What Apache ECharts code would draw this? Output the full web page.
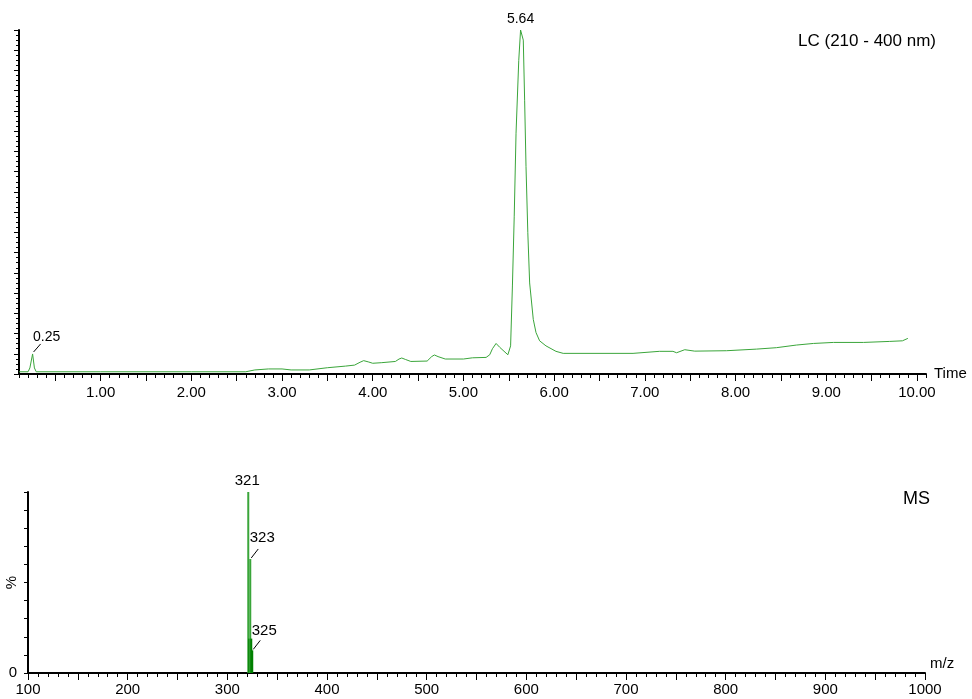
<!DOCTYPE html>
<html><head><meta charset="utf-8">
<script src="https://cdn.jsdelivr.net/npm/echarts@6/dist/echarts.min.js"></script>
<style>html,body{margin:0;padding:0;background:#fff}#c{width:972px;height:699px}</style>
</head><body><div id="c"></div>
<script>
// LC chromatogram (time in min, absorbance in arbitrary units; axis 0..170)
const lcTime = [0.10,0.20,0.22,0.25,0.27,0.29,1.00,2.00,2.60,2.70,2.85,3.00,3.10,3.30,3.50,3.70,3.80,3.86,3.90,3.95,4.00,4.10,4.25,4.29,4.32,4.36,4.42,4.60,4.65,4.68,4.72,4.80,5.00,5.10,5.25,5.29,5.32,5.36,5.40,5.49,5.52,5.54,5.56,5.58,5.61,5.63,5.66,5.675,5.69,5.71,5.73,5.77,5.80,5.84,5.91,6.02,6.10,6.87,7.16,7.31,7.35,7.44,7.55,7.90,8.23,8.45,8.67,8.86,9.08,9.41,9.70,9.84,9.90];
const lcAbs  = [1.1,1.1,3.0,9.9,3.0,1.1,1.1,1.1,1.1,2.0,2.5,2.5,2.0,2.0,3.1,3.9,4.4,5.8,6.6,6.0,5.3,5.6,6.2,7.4,7.9,7.2,6.2,6.4,8.6,9.4,8.6,7.4,7.4,8.0,8.2,9.5,12.5,15.1,13.2,9.5,13.9,43.5,78,119,155,170,165,135,102.6,69.8,45,27,20.5,16.4,13.9,11.2,10.2,10.2,11.2,11.2,10.5,12.0,11.3,11.5,12.3,13.0,14.3,15.1,15.6,15.6,16.1,16.4,17.6];
const lcPeakTimes  = [0.25, 5.63];
const lcPeakLabels = ['0.25', '5.64'];

// MS spectrum
const msMz  = [321, 322, 323, 324, 325];
const msInt = [100, 19, 63, 19, 12.5];
const msLabeled = [321, 323, 325];

// tick positions / labels
const lcLabelValues = [1,2,3,4,5,6,7,8,9,10];
const lcMajorTicks = [];
for (let i = 1; i <= 20; i++) lcMajorTicks.push(+(i * 0.5).toFixed(1));
const lcMinorTicks = [];
for (let i = 1; i <= 101; i++) lcMinorTicks.push(+(i * 0.1).toFixed(1));

const FONT = "'Liberation Sans', Arial, sans-serif";
const lightGreen = '#3aa53a';
const darkGreen = '#008000';

const lcData = lcTime.map((t, i) => [t, lcAbs[i]]);
const lcIdx = t => lcTime.indexOf(t);
// label placement (pixel offsets relative to the peak top)
const lcLabelOffsets = [[14, -17], [0, -11]];
const lcLeader = [true, false];
const msLabelOffsets = {321: [-1, -11], 323: [12, -21], 325: [12, -20]};
const msLeader = {321: false, 323: true, 325: true};

const chart = echarts.init(document.getElementById('c'));
const option = {
  animation: false,
  textStyle: {fontFamily: FONT},
  title: [
    {text: 'LC (210 - 400 nm)', right: 36, top: 33, padding: 0,
     textStyle: {fontFamily: FONT, fontSize: 17, fontWeight: 'normal', color: '#000'}},
    {text: 'MS', right: 42, top: 490, padding: 0,
     textStyle: {fontFamily: FONT, fontSize: 18, fontWeight: 'normal', color: '#000'}}
  ],
  grid: [
    {left: 19, right: 46, top: 30, height: 344, outerBoundsMode: 'none', containLabel: false},
    {left: 28, right: 47, top: 492, height: 181, outerBoundsMode: 'none', containLabel: false}
  ],
  xAxis: [
    {gridIndex: 0, type: 'value', min: 0.1, max: 10.1, position: 'bottom',
     axisLine: {show: true, lineStyle: {color: '#000', width: 2}},
     axisTick: {show: true, length: 7, customValues: lcMajorTicks, lineStyle: {color: '#000', width: 1}},
     axisLabel: {show: true, customValues: lcLabelValues, formatter: v => v.toFixed(2), fontSize: 15, color: '#000', margin: 11, fontFamily: FONT},
     splitLine: {show: false},
     name: 'Time', nameLocation: 'end', nameGap: 8,
     nameTextStyle: {fontSize: 15, color: '#000', fontFamily: FONT, verticalAlign: 'middle'}},
    {gridIndex: 0, type: 'value', min: 0.1, max: 10.1, position: 'bottom', offset: 0,
     axisLine: {show: false},
     axisTick: {show: true, length: 4, customValues: lcMinorTicks, lineStyle: {color: '#000', width: 1}},
     axisLabel: {show: false}, splitLine: {show: false}},
    {gridIndex: 1, type: 'value', min: 100, max: 1000, interval: 50,
     axisLine: {show: true, lineStyle: {color: '#000', width: 2}},
     axisTick: {show: true, length: 7, lineStyle: {color: '#000', width: 1}},
     minorTick: {show: true, splitNumber: 5, length: 4, lineStyle: {color: '#000', width: 1}},
     axisLabel: {show: true, formatter: v => (v % 100 === 0 ? String(v) : ''), fontSize: 15, color: '#000', margin: 9, fontFamily: FONT},
     splitLine: {show: false}, minorSplitLine: {show: false},
     name: 'm/z', nameLocation: 'end', nameGap: 5,
     nameTextStyle: {fontSize: 15, color: '#000', fontFamily: FONT, verticalAlign: 'bottom', padding: [0, 0, 2, 0]}}
  ],
  yAxis: [
    {gridIndex: 0, type: 'value', min: 0, max: 170, interval: 10,
     axisLine: {show: true, lineStyle: {color: '#000', width: 2}},
     axisTick: {show: true, length: 5, lineStyle: {color: '#000', width: 1}},
     minorTick: {show: true, splitNumber: 4, length: 3, lineStyle: {color: '#000', width: 1}},
     axisLabel: {show: false}, splitLine: {show: false}, minorSplitLine: {show: false}},
    {gridIndex: 1, type: 'value', min: 0, max: 100, interval: 10,
     axisLine: {show: true, lineStyle: {color: '#000', width: 2}},
     axisTick: {show: true, length: 4, lineStyle: {color: '#000', width: 1}},
     axisLabel: {show: true, formatter: v => (v === 0 ? '0' : ''), fontSize: 15, color: '#000', margin: 11, fontFamily: FONT},
     splitLine: {show: false},
     name: '%', nameLocation: 'middle', nameRotate: 90, nameGap: 9, nameMoveOverlap: false,
     nameTextStyle: {fontSize: 15, color: '#000', fontFamily: FONT}}
  ],
  series: [
    {type: 'line', xAxisIndex: 0, yAxisIndex: 0, data: lcData, showSymbol: false, symbol: 'none',
     lineStyle: {color: lightGreen, width: 1}, silent: true,
     markPoint: {symbol: 'circle', symbolSize: 0, silent: true,
       data: lcPeakTimes.map((t, i) => ({coord: [t, lcAbs[lcIdx(t)]],
         label: {show: true, position: 'inside', offset: lcLabelOffsets[i], formatter: lcPeakLabels[i],
                 color: '#000', fontSize: 14, fontFamily: FONT}}))}},
    {type: 'bar', xAxisIndex: 2, yAxisIndex: 1, barWidth: 2, silent: true,
     data: msMz.map((m, i) => ({value: [m, msInt[i]], itemStyle: {color: msInt[i] > 50 ? lightGreen : darkGreen}})),
     markPoint: {symbol: 'circle', symbolSize: 0, silent: true,
       data: msLabeled.map(m => ({coord: [m, msInt[msMz.indexOf(m)]],
         label: {show: true, position: 'inside', offset: msLabelOffsets[m], formatter: String(m),
                 color: '#000', fontSize: 15, fontFamily: FONT}}))}}
  ]
};
chart.setOption(option);

// leader lines from labelled peaks toward their labels
const leaders = [];
lcPeakTimes.forEach((t, i) => {
  if (!lcLeader[i]) return;
  const p = chart.convertToPixel({xAxisIndex: 0, yAxisIndex: 0}, [t, lcAbs[lcIdx(t)]]);
  leaders.push([p[0] + 1, p[1] - 2, p[0] + 8, p[1] - 10]);
});
msLabeled.forEach(m => {
  if (!msLeader[m]) return;
  const p = chart.convertToPixel({xAxisIndex: 2, yAxisIndex: 1}, [m, msInt[msMz.indexOf(m)]]);
  leaders.push([p[0] + 1, p[1] - 1, p[0] + 8, p[1] - 10]);
});
chart.setOption({graphic: leaders.map(l => ({type: 'line', silent: true,
  shape: {x1: l[0], y1: l[1], x2: l[2], y2: l[3]}, style: {stroke: '#000', lineWidth: 1}}))});
</script></body></html>
